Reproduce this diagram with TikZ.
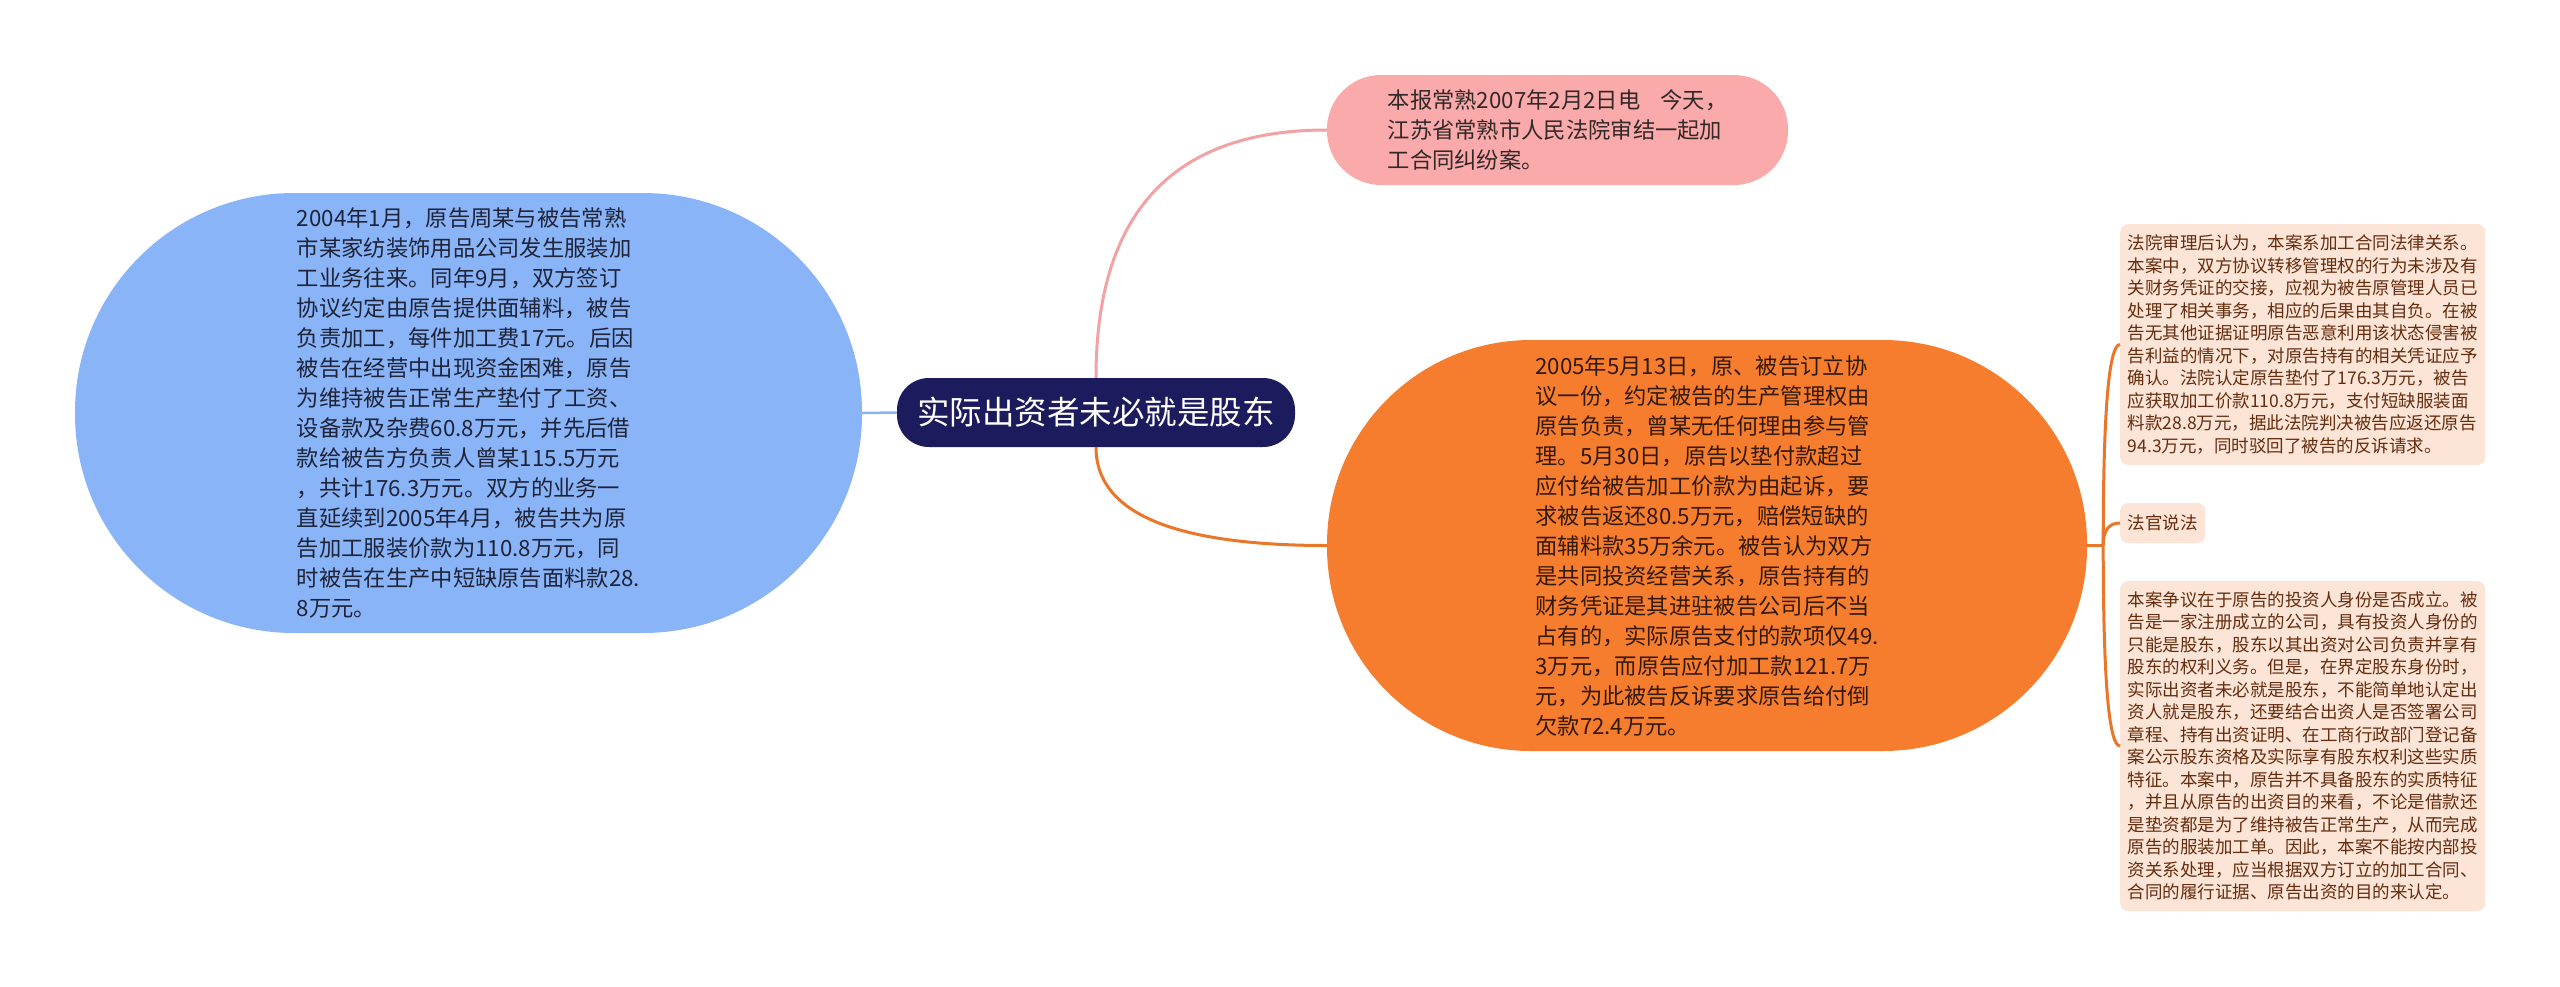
\documentclass[tikz,border=0pt]{standalone}
\usepackage{fontspec}
\setmainfont{Noto Sans CJK SC}
\usetikzlibrary{calc}
\definecolor{bluefill}{RGB}{138,180,248}
\definecolor{orangefill}{RGB}{247,125,46}
\definecolor{pinkfill}{RGB}{250,170,170}
\definecolor{rootfill}{RGB}{28,27,94}
\definecolor{peach}{RGB}{252,228,214}
\definecolor{pinkline}{RGB}{242,162,162}
\definecolor{blueline}{RGB}{138,180,248}
\definecolor{orangeline}{RGB}{234,118,40}
\definecolor{leaftext}{RGB}{100,45,15}
\definecolor{pinktext}{RGB}{51,40,40}
\definecolor{bluetext}{RGB}{30,35,55}
\definecolor{orangetext}{RGB}{50,25,10}
\begin{document}
\begin{tikzpicture}[x=1pt,y=-1pt,
  bubble/.style={inner sep=0pt, align=left, font=\fontsize{22.3}{30}\selectfont},
  leaf/.style={fill=peach, rounded corners=8pt, inner xsep=7.5pt, inner ysep=0pt,
    align=left, text=leaftext, font=\fontsize{17.5}{22.5}\selectfont, anchor=west},
  link/.style={line width=3pt}]
\useasboundingbox[fill=white] (0,0) rectangle (2560,986);

\node[inner sep=0pt, fill=rootfill, rounded corners=32pt, minimum width=398pt,
  minimum height=69pt, text=white, font=\fontsize{32.5}{38}\selectfont]
  (root) at (1096,412.5) {实际出资者未必就是股东};

\node[bubble, fill=pinkfill, rounded corners=54pt, minimum width=461pt,
  minimum height=110pt, text=pinktext] (news) at (1557.5,130)
  {本报常熟2007年2月2日电\hspace{0.9em}今天，\\江苏省常熟市人民法院审结一起加\\工合同纠纷案。};

\node[bubble, fill=bluefill, rounded corners=219pt, minimum width=787pt,
  minimum height=440pt, text=bluetext] (bg) at (468.5,413)
  {2004年1月，原告周某与被告常熟\\
   市某家纺装饰用品公司发生服装加\\
   工业务往来。同年9月，双方签订\\
   协议约定由原告提供面辅料，被告\\
   负责加工，每件加工费17元。后因\\
   被告在经营中出现资金困难，原告\\
   为维持被告正常生产垫付了工资、\\
   设备款及杂费60.8万元，并先后借\\
   款给被告方负责人曾某115.5万元\\
   ，共计176.3万元。双方的业务一\\
   直延续到2005年4月，被告共为原\\
   告加工服装价款为110.8万元，同\\
   时被告在生产中短缺原告面料款28.\\
   8万元。};

\node[bubble, fill=orangefill, rounded corners=204pt, minimum width=760pt,
  minimum height=411pt, text=orangetext] (dispute) at (1707,545.5)
  {2005年5月13日，原、被告订立协\\
   议一份，约定被告的生产管理权由\\
   原告负责，曾某无任何理由参与管\\
   理。5月30日，原告以垫付款超过\\
   应付给被告加工价款为由起诉，要\\
   求被告返还80.5万元，赔偿短缺的\\
   面辅料款35万余元。被告认为双方\\
   是共同投资经营关系，原告持有的\\
   财务凭证是其进驻被告公司后不当\\
   占有的，实际原告支付的款项仅49.\\
   3万元，而原告应付加工款121.7万\\
   元，为此被告反诉要求原告给付倒\\
   欠款72.4万元。};

\node[leaf, minimum height=241pt] (court) at (2120,344.5)
  {法院审理后认为，本案系加工合同法律关系。\\
   本案中，双方协议转移管理权的行为未涉及有\\
   关财务凭证的交接，应视为被告原管理人员已\\
   处理了相关事务，相应的后果由其自负。在被\\
   告无其他证据证明原告恶意利用该状态侵害被\\
   告利益的情况下，对原告持有的相关凭证应予\\
   确认。法院认定原告垫付了176.3万元，被告\\
   应获取加工价款110.8万元，支付短缺服装面\\
   料款28.8万元，据此法院判决被告应返还原告\\
   94.3万元，同时驳回了被告的反诉请求。};

\node[leaf, minimum height=40pt] (judge) at (2120,523) {法官说法};

\node[leaf, minimum height=330pt] (analysis) at (2120,746)
  {本案争议在于原告的投资人身份是否成立。被\\
   告是一家注册成立的公司，具有投资人身份的\\
   只能是股东，股东以其出资对公司负责并享有\\
   股东的权利义务。但是，在界定股东身份时，\\
   实际出资者未必就是股东，不能简单地认定出\\
   资人就是股东，还要结合出资人是否签署公司\\
   章程、持有出资证明、在工商行政部门登记备\\
   案公示股东资格及实际享有股东权利这些实质\\
   特征。本案中，原告并不具备股东的实质特征\\
   ，并且从原告的出资目的来看，不论是借款还\\
   是垫资都是为了维持被告正常生产，从而完成\\
   原告的服装加工单。因此，本案不能按内部投\\
   资关系处理，应当根据双方订立的加工合同、\\
   合同的履行证据、原告出资的目的来认定。};

% connectors
\coordinate (pc) at (root.north |- news.west);
\draw[link, pinkline] (root.north) .. controls ($(root.north)!0.667!(pc)$)
  and ($(news.west)!0.667!(pc)$) .. (news.west);
\draw[link, blueline, line width=2.5pt] (root.west) -- (bg.east);
\coordinate (oc) at (root.south |- dispute.west);
\draw[link, orangeline] (root.south) .. controls ($(root.south)!0.667!(oc)$)
  and ($(dispute.west)!0.667!(oc)$) .. (dispute.west);
\coordinate (j) at ($(dispute.east)+(16,0)$);
\draw[link, orangeline] (dispute.east) -- (j);
\foreach \c in {court,judge,analysis}{
  \coordinate (k) at (j |- \c.west);
  \draw[link, orangeline] (j) .. controls ($(j)!0.667!(k)$)
    and ($(\c.west)!0.667!(k)$) .. (\c.west);
}
\end{tikzpicture}
\end{document}
